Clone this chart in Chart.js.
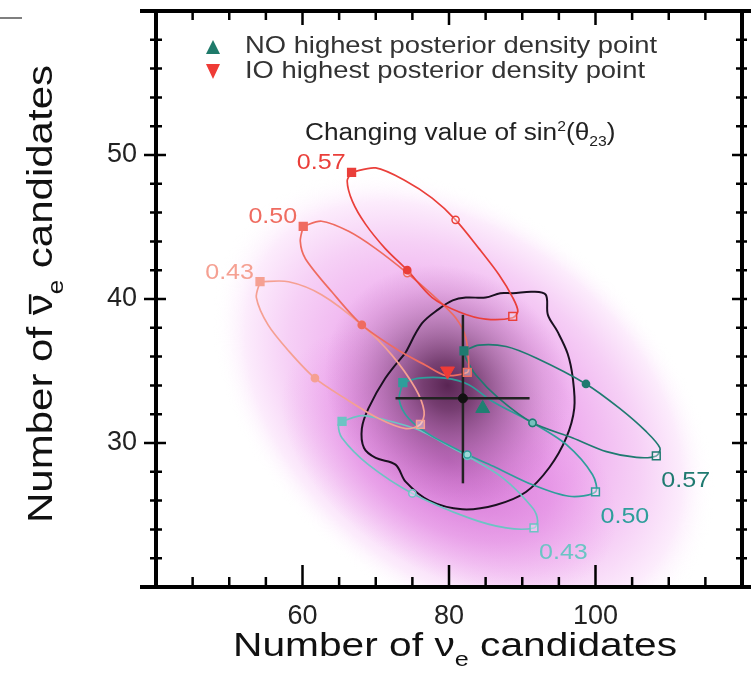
<!DOCTYPE html>
<html>
<head>
<meta charset="utf-8">
<script src="https://cdn.jsdelivr.net/npm/chart.js@4.4.1/dist/chart.umd.min.js"></script>
<style>
  html, body { margin: 0; padding: 0; background: #fff; }
</style>
</head>
<body>
<canvas id="myChart" width="751" height="683"></canvas>
<script>
// tick labels
let xTickValues = [60, 80, 100];
let yTickValues = [30, 40, 50];
let sinLabels = ['0.57', '0.50', '0.43'];

// inverted ordering (IO) curves, sin^2(theta23) = 0.57, 0.50, 0.43
let ioCurve57 = [[66.7,48.8],[70.0,49.1],[74.1,48.2],[77.7,47.0],[80.9,45.5],[84.1,43.5],[86.8,41.7],[88.7,40.1],[89.4,39.15],[88.7,38.7],[85.0,38.6],[81.4,39.1],[77.7,40.1],[74.3,42.0],[71.3,43.5],[68.6,45.2],[66.8,46.8],[66.1,48.2],[66.7,48.8]];
let ioCurve50 = [[60.1,45.05],[62.6,45.4],[66.3,44.7],[70.0,43.5],[74.3,41.8],[77.7,40.3],[80.9,38.7],[82.3,37.3],[82.7,35.4],[82.5,34.9],[79.5,34.7],[76.8,35.4],[73.2,36.4],[68.1,38.2],[64.0,40.5],[60.4,42.8],[59.7,44.0],[60.1,45.05]];
let ioCurve43 = [[54.2,41.2],[58.1,41.2],[62.6,40.3],[68.1,38.2],[72.2,36.1],[75.4,33.8],[76.6,32.2],[76.1,31.3],[74.1,31.0],[70.4,31.7],[65.8,33.1],[61.7,34.5],[58.1,36.4],[55.3,38.2],[53.7,40.1],[54.2,41.2]];

// normal ordering (NO) curves
let noCurve57 = [[82.05,36.4],[84.1,36.8],[87.8,36.7],[91.9,35.9],[98.7,34.1],[103.3,32.4],[106.9,30.8],[108.8,29.65],[108.3,29.1],[105.6,29.0],[101.5,29.4],[96.9,30.35],[91.4,31.4],[86.8,33.1],[83.7,34.7],[82.3,35.9],[82.05,36.4]];
let noCurve50 = [[73.7,34.2],[75.9,34.5],[79.5,34.5],[82.7,34.05],[85.9,32.9],[91.4,31.4],[96.0,29.9],[99.6,27.8],[100.0,26.6],[96.4,26.3],[91.4,27.1],[86.4,28.3],[82.5,29.2],[77.3,30.6],[74.5,31.7],[73.2,33.0],[73.7,34.2]];
let noCurve43 = [[65.4,31.5],[68.1,31.9],[71.3,31.6],[75.9,30.9],[80.5,29.65],[82.5,29.1],[87.3,27.6],[91.4,25.5],[92.1,24.6],[91.6,24.1],[87.8,24.1],[82.7,24.8],[75.0,26.5],[69.0,28.5],[65.4,30.35],[64.9,31.3],[65.4,31.5]];

// marked delta_CP points on each curve: [square, circle, open square, circle]
let ioMarks57 = [[66.7,48.8],[80.9,45.5],[88.7,38.8],[74.3,42.0]];
let ioMarks50 = [[60.1,45.05],[74.3,41.8],[82.5,34.9],[68.1,38.2]];
let ioMarks43 = [[54.2,41.2],[68.1,38.2],[76.1,31.3],[61.7,34.5]];
let noMarks57 = [[82.05,36.4],[98.7,34.1],[108.3,29.1],[91.4,31.4]];
let noMarks50 = [[73.7,34.2],[91.4,31.4],[100.0,26.6],[82.5,29.2]];
let noMarks43 = [[65.4,31.5],[82.5,29.1],[91.6,24.1],[75.0,26.5]];

// observed data with 68% contour
let contour68 = [[74.1,36.3],[76.3,38.3],[78.6,39.3],[80.5,39.9],[82.3,40.1],[85.0,40.1],[87.0,40.4],[88.7,40.4],[91.4,40.5],[93.2,40.3],[93.5,38.9],[94.8,37.75],[96.2,36.2],[96.9,34.5],[97.1,32.4],[96.0,30.35],[93.7,28.3],[90.5,26.6],[86.4,25.7],[81.8,25.4],[77.3,26.0],[74.1,27.3],[72.7,28.5],[70.0,28.96],[68.4,29.65],[68.1,31.0],[69.0,32.4],[71.3,34.5],[74.1,36.3]];
let observed = [81.9, 33.1];
let observedXRange = [72.7, 91.0];
let observedYRange = [27.2, 38.9];
let noPeak = [84.6, 32.4];
let ioPeak = [79.8, 35.0];

const FONT = '"Liberation Sans", Arial, Helvetica, sans-serif';
const SX = 1.14;
const ioColors = ['#ea3f3a', '#ef6b60', '#f5a092'];
const noColors = ['#1f7a70', '#2e9e9b', '#6cc4c4'];

function pts(arr) { return arr.map(p => ({x: p[0], y: p[1]})); }

function curve(data, color) {
  return { data: pts(data), showLine: true, borderColor: color, borderWidth: 1.7,
           pointRadius: 0, tension: 0.3, fill: false, order: 3 };
}
function marks(data, color, filled) {
  return { data: pts(data), showLine: false, order: 1,
           pointStyle: ['rect', 'circle', 'rect', 'circle'],
           pointRadius: [5.5, 3.6, 5.5, 3.6],
           pointBorderWidth: 1.5, pointBorderColor: color,
           pointBackgroundColor: filled.map(f => f ? color : 'rgba(255,255,255,0.35)') };
}

function drawParts(ctx, parts, size, x, y, opts) {
  ctx.save();
  let w = 0;
  const widths = parts.map(p => {
    ctx.font = (p.k || 1) * size + 'px ' + FONT;
    const m = ctx.measureText(p.t).width;
    w += m;
    return m;
  });
  const sx = opts.width ? opts.width / w : SX;
  const start = opts.align === 'center' ? -w * sx / 2 : opts.align === 'right' ? -w * sx : 0;
  ctx.translate(x, y);
  if (opts.rotate) ctx.rotate(opts.rotate);
  ctx.translate(start, 0);
  ctx.scale(sx, 1);
  ctx.fillStyle = opts.color || '#111';
  ctx.textBaseline = 'alphabetic';
  let cx = 0;
  parts.forEach((p, i) => {
    ctx.font = (p.k || 1) * size + 'px ' + FONT;
    ctx.fillText(p.t, cx, (p.dy || 0) * size);
    if (p.bar) ctx.fillRect(cx + 1, -size * 0.66, widths[i] - 1, size * 0.07);
    cx += widths[i];
  });
  ctx.restore();
}

// one soft elliptical blob of the posterior shading
function blob(ctx, cx, cy, r, ry, rot, stops) {
  ctx.save();
  ctx.translate(cx, cy);
  ctx.rotate(rot);
  ctx.scale(1, ry);
  const g = ctx.createRadialGradient(0, 0, 0, 0, 0, r);
  stops.forEach(s => g.addColorStop(s[0], s[1]));
  ctx.fillStyle = g;
  ctx.beginPath();
  ctx.arc(0, 0, r, 0, Math.PI * 2);
  ctx.fill();
  ctx.restore();
}

const density = {
  id: 'density',
  beforeDatasetsDraw(chart) {
    const {ctx, chartArea: a, scales: {x, y}} = chart;
    ctx.save();
    ctx.beginPath();
    ctx.rect(a.left, a.top, a.right - a.left, a.bottom - a.top);
    ctx.clip();
    blob(ctx, x.getPixelForValue(82), y.getPixelForValue(32.5), 285, 0.68, 0.7, [
      [0, 'rgba(234,160,234,1)'], [0.45, 'rgba(239,176,239,1)'], [0.7, 'rgba(246,208,246,1)'],
      [0.87, 'rgba(252,236,252,1)'], [1, 'rgba(255,255,255,0)']]);
    blob(ctx, x.getPixelForValue(80), y.getPixelForValue(28.8), 185, 0.6, 0.55, [
      [0, 'rgba(200,100,200,0.85)'], [0.6, 'rgba(222,128,222,0.5)'], [1, 'rgba(235,150,235,0)']]);
    blob(ctx, x.getPixelForValue(79.8), y.getPixelForValue(34.0), 128, 0.9, 0.7, [
      [0, 'rgba(80,30,74,0.94)'], [0.2, 'rgba(94,44,88,0.82)'], [0.5, 'rgba(126,72,122,0.5)'],
      [0.8, 'rgba(160,96,156,0.18)'], [1, 'rgba(170,100,170,0)']]);
    ctx.restore();
  }
};

const annotations = {
  id: 'annotations',
  afterDatasetsDraw(chart) {
    const {ctx, scales: {x, y}} = chart;
    const ioMarks = [ioMarks57, ioMarks50, ioMarks43];
    const noMarks = [noMarks57, noMarks50, noMarks43];
    sinLabels.forEach((lab, i) => {
      const s = ioMarks[i][0];
      drawParts(ctx, [{t: lab}], 22, x.getPixelForValue(s[0]) - 6, y.getPixelForValue(s[1]) - 3,
                {align: 'right', color: ioColors[i]});
      const o = noMarks[i][2];
      drawParts(ctx, [{t: lab}], 22, x.getPixelForValue(o[0]) + 5, y.getPixelForValue(o[1]) + 31,
                {align: 'left', color: noColors[i]});
    });

    // legend
    ctx.save();
    ctx.fillStyle = '#1f7a6a';
    ctx.beginPath();
    ctx.moveTo(213, 40); ctx.lineTo(220, 54); ctx.lineTo(206, 54); ctx.closePath(); ctx.fill();
    ctx.fillStyle = '#ef3b36';
    ctx.beginPath();
    ctx.moveTo(206, 64); ctx.lineTo(220, 64); ctx.lineTo(213, 79); ctx.closePath(); ctx.fill();
    ctx.restore();
    drawParts(ctx, [{t: 'NO highest posterior density point'}], 24, 245, 53, {color: '#333'});
    drawParts(ctx, [{t: 'IO highest posterior density point'}], 24, 245, 78, {color: '#333'});

    drawParts(ctx, [{t: 'Changing value of sin'}, {t: '2', k: 0.6, dy: -0.38}, {t: '(θ'},
                    {t: '23', k: 0.6, dy: 0.25}, {t: ')'}], 23, 305, 140, {color: '#222'});
  }
};

const frame = {
  id: 'frame',
  afterDraw(chart) {
    const {ctx, chartArea: a, scales: {x, y}} = chart;
    ctx.save();
    ctx.strokeStyle = '#000';
    ctx.lineWidth = 4;
    ctx.beginPath();
    ctx.moveTo(140, a.bottom); ctx.lineTo(751, a.bottom);
    ctx.moveTo(140, a.top); ctx.lineTo(751, a.top);
    ctx.moveTo(a.left, a.top - 2); ctx.lineTo(a.left, a.bottom + 2);
    ctx.moveTo(a.right, a.top - 2); ctx.lineTo(a.right, a.bottom + 2);
    ctx.stroke();
    ctx.lineWidth = 2.5;
    ctx.beginPath();
    for (let v = 45; v < 120; v += 5) {
      const px = x.getPixelForValue(v);
      const major = v % 20 === 0;
      ctx.moveTo(px, a.bottom); ctx.lineTo(px, a.bottom - (major ? 22 : 10));
      ctx.moveTo(px, a.top); ctx.lineTo(px, a.top + (major ? 14 : 9));
    }
    for (let v = 22; v < 60; v += 2) {
      const py = y.getPixelForValue(v);
      const major = v % 10 === 0;
      ctx.moveTo(a.left - (major ? 12 : 6), py); ctx.lineTo(a.left + (major ? 10 : 6), py);
      ctx.moveTo(a.right - (major ? 10 : 6), py); ctx.lineTo(a.right + 5, py);
    }
    ctx.stroke();
    ctx.strokeStyle = '#555';
    ctx.lineWidth = 1.5;
    ctx.beginPath();
    ctx.moveTo(0, 18); ctx.lineTo(22, 18);
    ctx.stroke();
    ctx.restore();

    drawParts(ctx, [{t: 'Number of '}, {t: 'ν'}, {t: 'e', k: 0.62, dy: 0.3}, {t: ' candidates'}],
              33, 455, 656, {align: 'center', width: 444, color: '#111'});
    drawParts(ctx, [{t: 'Number of '}, {t: 'ν', bar: true}, {t: 'e', k: 0.62, dy: 0.3}, {t: ' candidates'}],
              35, 52, 294, {align: 'center', width: 458, rotate: -Math.PI / 2, color: '#111'});
  }
};

const ctx = document.getElementById('myChart').getContext('2d');

const chart = new Chart(ctx, {
  type: 'scatter',
  data: {
    datasets: [
      { data: pts([noPeak]), pointStyle: 'triangle', pointRadius: 8, order: 0,
        pointBackgroundColor: '#1f8072', pointBorderColor: '#1f8072' },
      { data: pts([ioPeak]), pointStyle: 'triangle', rotation: 180, pointRadius: 8, order: 0,
        pointBackgroundColor: '#ef3b36', pointBorderColor: '#ef3b36' },
      { data: pts([observed]), pointRadius: 4.5, order: 1,
        pointBackgroundColor: '#111', pointBorderColor: '#111' },
      { data: pts([[observedXRange[0], observed[1]], [observedXRange[1], observed[1]]]),
        showLine: true, borderColor: '#222', borderWidth: 2.5, pointRadius: 0, order: 2 },
      { data: pts([[observed[0], observedYRange[0]], [observed[0], observedYRange[1]]]),
        showLine: true, borderColor: '#222', borderWidth: 2.5, pointRadius: 0, order: 2 },
      marks(ioMarks57, ioColors[0], [true, false, false, true]),
      marks(ioMarks50, ioColors[1], [true, false, false, true]),
      marks(ioMarks43, ioColors[2], [true, false, false, true]),
      marks(noMarks57, noColors[0], [true, true, false, false]),
      marks(noMarks50, noColors[1], [true, true, false, false]),
      marks(noMarks43, noColors[2], [true, true, false, false]),
      curve(ioCurve57, ioColors[0]),
      curve(ioCurve50, ioColors[1]),
      curve(ioCurve43, ioColors[2]),
      curve(noCurve57, noColors[0]),
      curve(noCurve50, noColors[1]),
      curve(noCurve43, noColors[2]),
      { data: pts(contour68), showLine: true, borderColor: '#1a1020', borderWidth: 2,
        pointRadius: 0, tension: 0.35, order: 4 }
    ]
  },
  options: {
    responsive: false,
    animation: false,
    events: [],
    layout: { padding: { top: 11, right: 7, left: 0, bottom: 0 } },
    plugins: { legend: { display: false }, tooltip: { enabled: false } },
    scales: {
      x: {
        type: 'linear', min: 40, max: 120,
        afterBuildTicks: s => { s.ticks = xTickValues.map(v => ({value: v})); },
        afterFit: s => { s.height = 96; s.paddingLeft = 0; s.paddingRight = 0; },
        grid: { display: false, drawTicks: false },
        border: { display: false },
        ticks: { font: { family: FONT, size: 27 }, color: '#222', padding: 13, maxRotation: 0 }
      },
      y: {
        type: 'linear', min: 20, max: 60,
        afterBuildTicks: s => { s.ticks = yTickValues.map(v => ({value: v})); },
        afterFit: s => { s.width = 156; s.paddingTop = 0; s.paddingBottom = 0; },
        grid: { display: false, drawTicks: false },
        border: { display: false },
        ticks: { font: { family: FONT, size: 27 }, color: '#222', padding: 19 }
      }
    }
  },
  plugins: [density, annotations, frame]
});
</script>
</body>
</html>
